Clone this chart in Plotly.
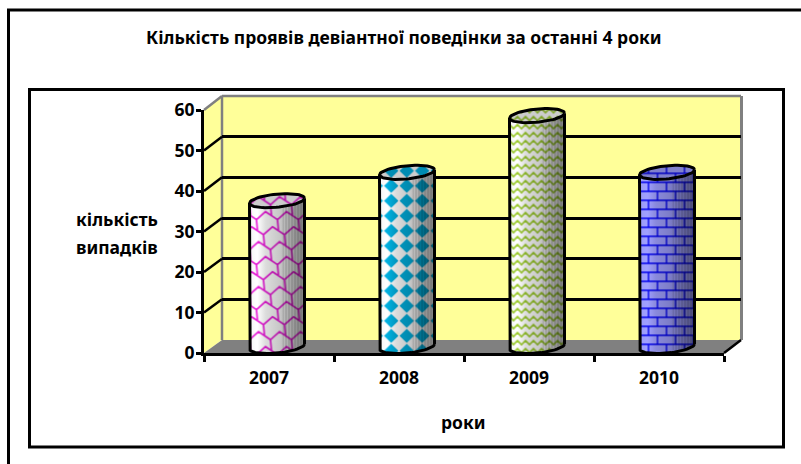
import base64
import numpy as np
import plotly.graph_objects as go

# ---------- data ----------
years = ["2007", "2008", "2009", "2010"]
cases = [36, 43, 57, 43]
y_ticks = [0, 10, 20, 30, 40, 50, 60]
title_text = "Кількість проявів девіантної поведінки за останні 4 роки"
x_title = "роки"
y_title = ["кількість", "випадків"]

# ---------- geometry (pixels) ----------
W, H = 801, 464
FX0, FX1, FY0, FY1 = 204, 724, 353, 110     # front axes
BX0, BX1, BY0, BY1 = 222, 741, 340, 96      # back wall
CX0, CX1 = 212, 732                         # cylinder axis span
CY0 = 346.5                                 # cylinder base line
PPU = (FY0 - FY1) / 60.0                    # px per unit
CYL_PAD = 3
A, S, B = 27.5, 2.5, 6.6                    # ellipse half-width, tilt, half-height
FONT = "Noto Sans"

def px(x): return x / W
def py(y): return 1 - y / H

# ---------- textures ----------
def shingle_path():
    parts = []
    for k in range(-1, 4):
        pts = []
        for m in range(-2, 3):
            pts += [(5 + 7 * k + 21 * m, 5 + 15 * k), (17 + 7 * k + 21 * m, 13 + 15 * k)]
        parts.append("M" + " L".join(f"{x} {y}" for x, y in pts))
        for m in range(-2, 3):
            x, y = 17 + 7 * k + 21 * m, 13 + 15 * k
            parts.append(f"M{x} {y} L{x + 1} {y + 11}")
    return " ".join(parts)

tiles = [
    (21, 45, "#ffffff", "#e81cd8", 1.7, shingle_path(), "none"),
    (15.5, 15, "#ffffff", "#00b0e0", 0,
     "M7.75 0.5 L15 7.5 L7.75 14.5 L0.5 7.5 Z", "#00b0e0"),
    (16, 8, "#ffffff", "#9ccb2e", 1.6,
     "M-1 6.5 L0 6 L4 2 L8 6 L12 2 L16 6 L17 6.5", "none"),
    (18, 18, "#a0a0ff", "#0000ee", 1.4,
     "M0 1 H18 M0 10 H18 M5 1 V10 M14 10 V19 M14 -8 V1", "none"),
]

def ellipse(n, t0=0.0, t1=2 * np.pi):
    t = np.linspace(t0, t1, n)
    return A * np.cos(t), S * np.cos(t) + B * np.sin(t)

def texture(i, value):
    tw, th, bg, fg, sw, d, fill = tiles[i]
    hpx = value * PPU
    pad = 9
    img_h = hpx + 2 * pad
    ex, ey = ellipse(60)
    top = "M" + " L".join(f"{x + A:.2f} {pad - y:.2f}" for x, y in zip(ex, ey)) + " Z"
    fx, fy = ellipse(30, np.pi, 2 * np.pi)  # front half of rim, left to right
    bx, by = ellipse(30, 0, -np.pi)         # front half of base, right to left
    body = ("M" + " L".join(f"{x + A:.2f} {pad - y:.2f}" for x, y in zip(fx, fy))
            + " L" + " L".join(f"{x + A:.2f} {pad + hpx - y:.2f}" for x, y in zip(bx, by)) + " Z")
    svg = f'''<svg xmlns="http://www.w3.org/2000/svg" width="{2*A}" height="{img_h}" viewBox="0 0 {2*A} {img_h}" preserveAspectRatio="none">
<defs>
<pattern id="p" patternUnits="userSpaceOnUse" width="{tw}" height="{th}" patternTransform="translate(4 0)"><rect width="{tw}" height="{th}" fill="{bg}"/>
<path d="{d}" fill="{fill}" stroke="{fg}" stroke-width="{sw}"/></pattern>
<pattern id="s" patternUnits="userSpaceOnUse" width="3" height="4"><rect x="0" width="1" height="4" fill="#000" fill-opacity="0.18"/></pattern>
<linearGradient id="g" x1="0" x2="1" y1="0" y2="0">
<stop offset="0" stop-color="#000" stop-opacity="0.04"/><stop offset="0.14" stop-color="#000" stop-opacity="0"/>
<stop offset="0.3" stop-color="#000" stop-opacity="0.14"/><stop offset="0.55" stop-color="#000" stop-opacity="0.22"/>
<stop offset="0.85" stop-color="#000" stop-opacity="0.42"/><stop offset="1" stop-color="#000" stop-opacity="0.5"/>
</linearGradient>
</defs>
<path d="{body}" fill="url(#p)"/><path d="{body}" fill="url(#g)"/>
<clipPath id="c"><rect x="{A*1.2}" y="0" width="{A}" height="{img_h}"/></clipPath>
<path d="{body}" fill="url(#s)" clip-path="url(#c)"/>
<path d="{top}" fill="url(#p)"/><path d="{top}" fill="#000" fill-opacity="0.2"/>
</svg>'''
    return "data:image/svg+xml;base64," + base64.b64encode(svg.encode()).decode(), img_h, pad

# ---------- figure ----------
fig = go.Figure()
idx = list(range(len(years)))
bar_unit = 1.0 / ((CX1 - CX0) / 4.0)

fig.add_trace(go.Scatter(x=idx, y=cases, xaxis="x", yaxis="y", mode="markers",
                         marker=dict(opacity=0), hoverinfo="skip", showlegend=False))
fig.add_trace(go.Bar(x=idx, y=cases, xaxis="x2", yaxis="y2", width=50 * bar_unit,
                     marker=dict(color=["#e0a0e0", "#80c8e0", "#d0e0a0", "#8080e0"], line=dict(width=0)),
                     showlegend=False, name="кількість випадків"))

images = []
for i, v in enumerate(cases):
    src, img_h, pad = texture(i, v)
    images.append(dict(source=src, xref="x3", yref="y3", x=i - A * bar_unit, y=v + pad / PPU,
                       sizex=2 * A * bar_unit, sizey=img_h / PPU, xanchor="left", yanchor="top",
                       sizing="stretch", layer="below"))
    ex, ey = ellipse(60)
    bx, by = ellipse(30, np.pi, 2 * np.pi)
    xs = list(i + ex * bar_unit) + [None, i - A * bar_unit] + list(i + bx * bar_unit) + [None]
    ys = list(v + ey / PPU) + [None, v - S / PPU] + list(by / PPU) + [None]
    xs += [i + A * bar_unit, i + A * bar_unit]
    ys += [v + S / PPU, S / PPU]
    fig.add_trace(go.Scatter(x=xs, y=ys, xaxis="x3", yaxis="y3", mode="lines",
                             line=dict(color="black", width=3), hoverinfo="skip",
                             showlegend=False, cliponaxis=False))

fig.add_trace(go.Scatter(x=years, y=cases, xaxis="x4", yaxis="y4", mode="markers",
                         marker=dict(opacity=0), hoverinfo="skip", showlegend=False))

def poly(points, fill, line=None, lw=0):
    d = "M" + " L".join(f"{px(x):.5f} {py(y):.5f}" for x, y in points) + " Z"
    return dict(type="path", path=d, xref="paper", yref="paper", fillcolor=fill,
                line=dict(color=line or fill, width=lw), layer="below")

def seg(x0, y0, x1, y1, color, lw):
    return dict(type="line", xref="paper", yref="paper", x0=px(x0), y0=py(y0), x1=px(x1), y1=py(y1),
                line=dict(color=color, width=lw), layer="below")

GRAY = "#808080"
YEL = "#ffff99"
shapes = [
    dict(type="rect", xref="paper", yref="paper", x0=px(8.5), y0=py(10), x1=px(820), y1=py(490),
         line=dict(color="black", width=3), fillcolor="white", layer="below"),
    dict(type="rect", xref="paper", yref="paper", x0=px(29.5), y0=py(89.5), x1=px(783.5), y1=py(447),
         line=dict(color="black", width=3), fillcolor="white", layer="below"),
    poly([(BX0, BY0), (BX1, BY0), (BX1, BY1), (BX0, BY1)], YEL),
    poly([(FX0, FY0), (BX0, BY0), (BX0, BY1), (FX0, FY1)], YEL),
    poly([(FX0, FY0), (FX1, FY0), (BX1, BY0), (BX0, BY0)], GRAY),
    seg(BX0, BY1, BX1, BY1, GRAY, 2.5),
    seg(BX1 + 0.5, BY1, BX1 + 0.5, BY0, GRAY, 3),
    seg(BX0, BY0, BX0, BY1, GRAY, 2.5),
    seg(FX0, FY1, BX0, BY1, GRAY, 2.5),
    seg(FX1, FY0, BX1, BY0, "black", 2.5),
]
for t in y_ticks[1:-1]:
    f = FY0 - t * PPU
    b = BY0 - t * (BY0 - BY1) / 60.0
    shapes.append(seg(FX0, f, BX0, b, "black", 2.5))

hidden = dict(visible=False, fixedrange=True, automargin=False)
layout_axes = dict(
    xaxis=dict(domain=[px(BX0), px(BX1)], range=[0, 1], anchor="y", **hidden),
    yaxis=dict(domain=[py(BY0), py(BY1)], range=[0, 60], anchor="x", tickvals=y_ticks[1:-1],
               showgrid=True, gridcolor="black", gridwidth=2.5, zeroline=False, showticklabels=False,
               ticks="", showline=False, fixedrange=True, automargin=False),
    xaxis2=dict(domain=[px(CX0), px(CX1)], range=[-0.5, 3.5], anchor="y2", **hidden),
    yaxis2=dict(domain=[py(CY0 + CYL_PAD * PPU), py(CY0 - 60 * PPU)], range=[-CYL_PAD, 60], anchor="x2", **hidden),
    xaxis3=dict(domain=[px(CX0), px(CX1)], range=[-0.5, 3.5], anchor="y3", **hidden),
    yaxis3=dict(domain=[py(CY0 + CYL_PAD * PPU), py(CY0 - 60 * PPU)], range=[-CYL_PAD, 60], anchor="x3", **hidden),
    xaxis4=dict(domain=[px(FX0), px(FX1)], type="category", categoryorder="array", categoryarray=years,
                range=[-0.5, 3.5], anchor="y4", showline=True, linecolor="black", linewidth=3,
                ticks="outside", tickson="boundaries", ticklen=6, tickwidth=2.5, tickcolor="black",
                showgrid=False, fixedrange=True, automargin=False, ticklabelstandoff=7,
                tickfont=dict(family=FONT, size=17.5, color="black", weight="bold")),
    yaxis4=dict(domain=[py(FY0), py(FY1)], range=[0, 60], anchor="x4", tickvals=y_ticks, showline=True,
                linecolor="black", linewidth=3, ticks="outside", ticklen=5, tickwidth=2.5, tickcolor="black",
                showgrid=False, zeroline=False, fixedrange=True, automargin=False, ticklabelstandoff=-2,
                tickfont=dict(family=FONT, size=17.5, color="black", weight="bold")),
)

def note(text, x, y, size=17.5):
    return dict(text=f"<b>{text}</b>", xref="paper", yref="paper", x=px(x), y=py(y), showarrow=False,
                xanchor="center", yanchor="middle", font=dict(family=FONT, size=size, color="black"))

annotations = [note(x_title, 463, 422), note(y_title[0], 117, 219), note(y_title[1], 117, 247),
               note(title_text, 404, 37)]

fig.update_layout(template="none", width=W, height=H, margin=dict(l=0, r=0, t=0, b=0, pad=0), autosize=False,
                  paper_bgcolor="white", plot_bgcolor="rgba(0,0,0,0)", showlegend=False,
                  barmode="overlay", shapes=shapes, images=images, annotations=annotations, **layout_axes)

fig.write_html("out.html", config=dict(displayModeBar=False),
               post_script="document.body.style.margin='0';")
